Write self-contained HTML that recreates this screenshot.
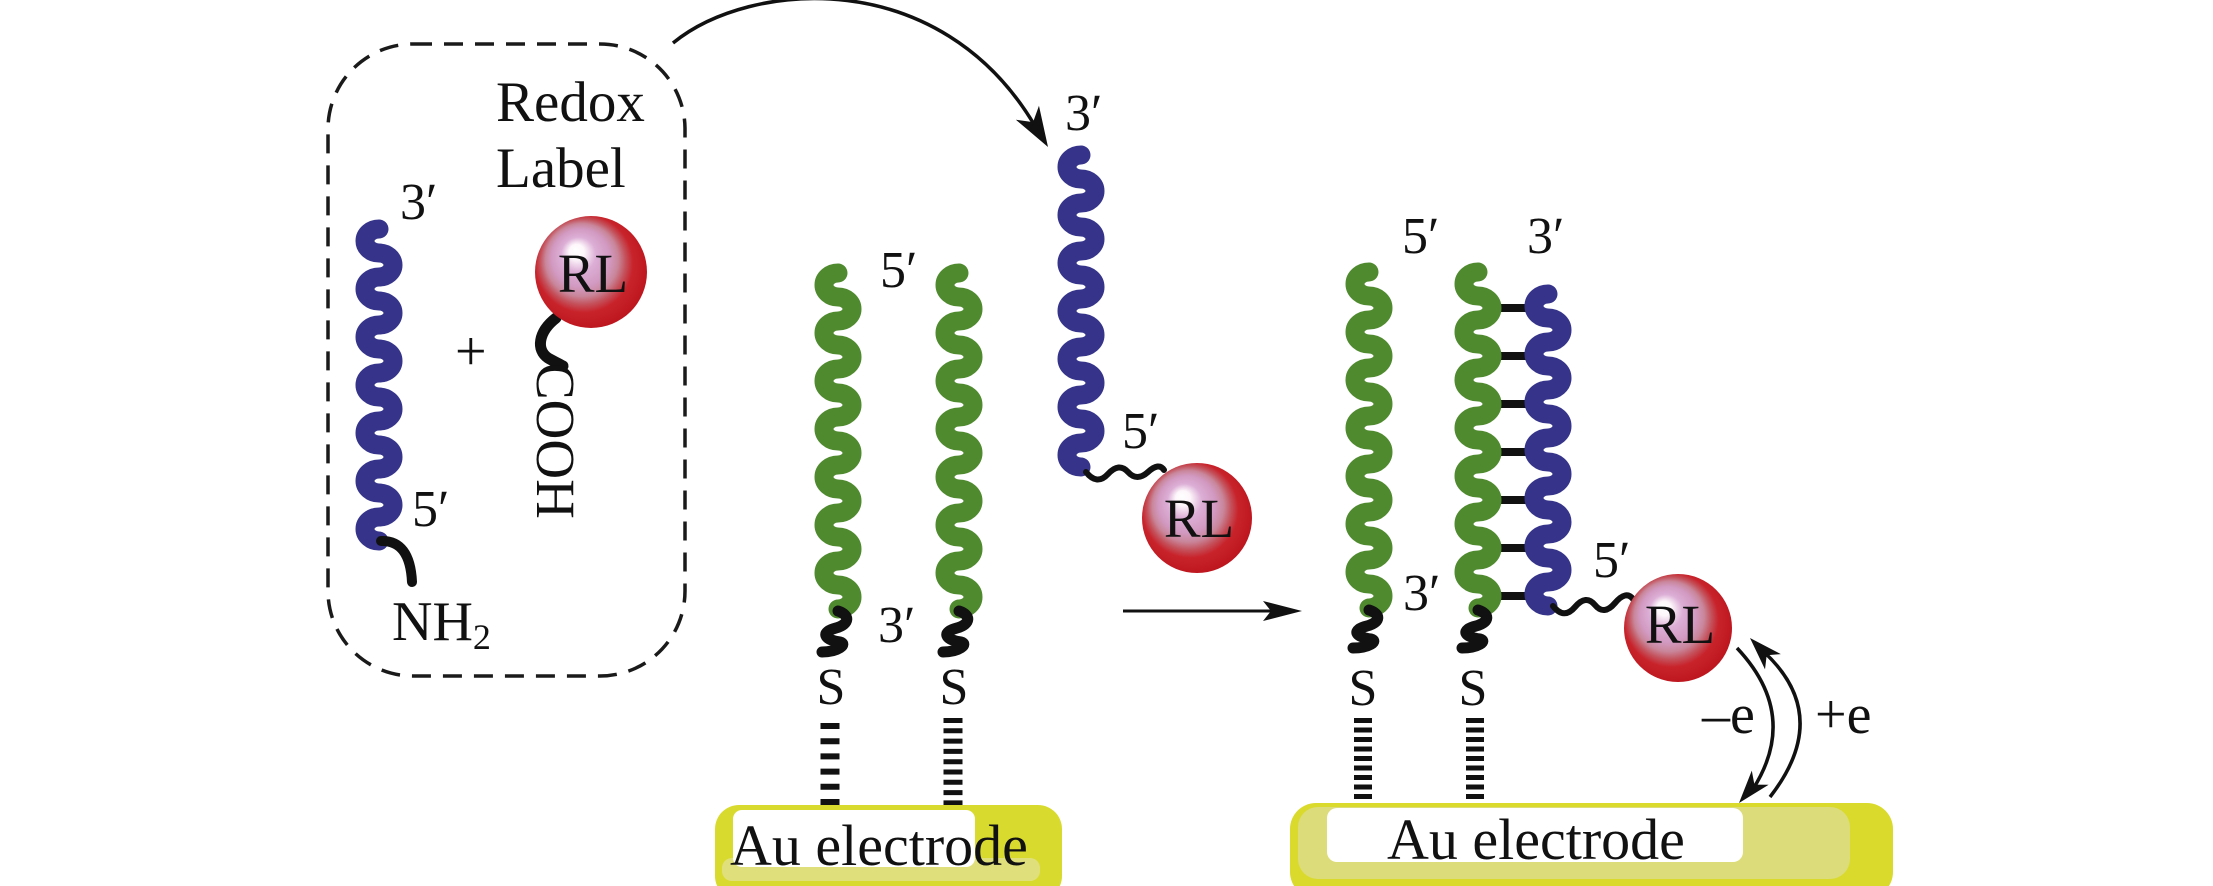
<!DOCTYPE html>
<html>
<head>
<meta charset="utf-8">
<style>
  html, body { margin: 0; padding: 0; background: #ffffff; }
  svg { display: block; }
  text { font-family: "Liberation Serif", "DejaVu Serif", serif; fill: #111; }
</style>
</head>
<body>
<svg width="2213" height="886" viewBox="0 0 2213 886" xmlns="http://www.w3.org/2000/svg">
  <defs>
    <radialGradient id="rl" cx="0.46" cy="0.46" r="0.56" fx="0.36" fy="0.3">
      <stop offset="0" stop-color="#ffffff"/>
      <stop offset="0.12" stop-color="#fdf6fa"/>
      <stop offset="0.28" stop-color="#dcaed6"/>
      <stop offset="0.46" stop-color="#d29ac2"/>
      <stop offset="0.58" stop-color="#c9869a"/>
      <stop offset="0.68" stop-color="#c4525c"/>
      <stop offset="0.78" stop-color="#c8232b"/>
      <stop offset="1" stop-color="#bd151d"/>
    </radialGradient>
  </defs>

  <!-- Dashed box -->
  <rect x="328" y="44" width="357" height="632" rx="85" ry="85" fill="none" stroke="#1a1a1a" stroke-width="3.5" stroke-dasharray="19 12"/>

  <!-- Redox Label -->
  <text x="496" y="121" font-size="57">Redox</text>
  <text x="496" y="187" font-size="57">Label</text>

  <!-- Left blue strand -->
  <path d="M379,229 a14,12 0 0 0 0,24 a14,12 0 0 1 0,24 a14,12 0 0 0 0,24 a14,12 0 0 1 0,24 a14,12 0 0 0 0,24 a14,12 0 0 1 0,24 a14,12 0 0 0 0,24 a14,12 0 0 1 0,24 a14,12 0 0 0 0,24 a14,12 0 0 1 0,24 a14,12 0 0 0 0,24 a14,12 0 0 1 0,24 a14,12 0 0 0 0,24" fill="none" stroke="#35348a" stroke-width="19" stroke-linecap="round"/>
  <!-- NH2 linker -->
  <path d="M381,541 Q410,540 412,582" fill="none" stroke="#111" stroke-width="10" stroke-linecap="round"/>
  <text x="400" y="219" font-size="52">3′</text>
  <text x="412" y="526" font-size="52">5′</text>
  <text x="392" y="640" font-size="56">NH<tspan font-size="36" dy="9">2</tspan></text>

  <!-- plus -->
  <text x="455" y="370" font-size="56">+</text>

  <!-- Left RL -->
  <path d="M556,318 C538,332 536,350 548,358 C553,361 558,363 563,366" fill="none" stroke="#111" stroke-width="11" stroke-linecap="round"/>
  <circle cx="591" cy="272" r="56" fill="url(#rl)"/>
  <text x="593" y="292" font-size="55" text-anchor="middle">RL</text>
  <text transform="translate(537,363) rotate(90)" font-size="55">COOH</text>

  <!-- Big curved arrow -->
  <path d="M673,43 C750,-20 940,-35 1035,126" fill="none" stroke="#111" stroke-width="3.5"/>
  <polygon points="0,0 -40,-13.5 -29,0 -40,13.5" fill="#111" transform="translate(1048,147) rotate(59)"/>

  <!-- Middle panel: green strands -->
  <path d="M838,273 a14,12 0 0 0 0,24 a14,12 0 0 1 0,24 a14,12 0 0 0 0,24 a14,12 0 0 1 0,24 a14,12 0 0 0 0,24 a14,12 0 0 1 0,24 a14,12 0 0 0 0,24 a14,12 0 0 1 0,24 a14,12 0 0 0 0,24 a14,12 0 0 1 0,24 a14,12 0 0 0 0,24 a14,12 0 0 1 0,24 a14,12 0 0 0 0,24 a14,12 0 0 1 0,24" fill="none" stroke="#4f8a2f" stroke-width="19" stroke-linecap="round"/>
  <path d="M959,273 a14,12 0 0 0 0,24 a14,12 0 0 1 0,24 a14,12 0 0 0 0,24 a14,12 0 0 1 0,24 a14,12 0 0 0 0,24 a14,12 0 0 1 0,24 a14,12 0 0 0 0,24 a14,12 0 0 1 0,24 a14,12 0 0 0 0,24 a14,12 0 0 1 0,24 a14,12 0 0 0 0,24 a14,12 0 0 1 0,24 a14,12 0 0 0 0,24 a14,12 0 0 1 0,24" fill="none" stroke="#4f8a2f" stroke-width="19" stroke-linecap="round"/>
  <!-- black linkers -->
  <path d="M838,611 C850,615 850,624 836,628 C820,632 824,640 840,642 C848,644 838,652 822,652" fill="none" stroke="#111" stroke-width="11" stroke-linecap="round"/>
  <path d="M959,611 C971,615 971,624 957,628 C941,632 945,640 961,642 C969,644 959,652 943,652" fill="none" stroke="#111" stroke-width="11" stroke-linecap="round"/>
  <text x="880" y="287" font-size="52">5′</text>
  <text x="878" y="642" font-size="52">3′</text>
  <text x="831" y="704" font-size="52" text-anchor="middle">S</text>
  <text x="954" y="704" font-size="52" text-anchor="middle">S</text>
  <line x1="830" y1="723" x2="830" y2="806" stroke="#111" stroke-width="19" stroke-dasharray="6 9.2"/>
  <line x1="953" y1="718" x2="953" y2="808" stroke="#111" stroke-width="19" stroke-dasharray="5 5.3"/>

  <!-- Middle electrode -->
  <rect x="715" y="805" width="347" height="95" rx="24" fill="#d8da2e"/>
  <rect x="722" y="858" width="318" height="23" rx="10" fill="#dfe07c"/>
  <rect x="733" y="810" width="242" height="57" rx="9" fill="#ffffff"/>
  <text x="730" y="865" font-size="58">Au electrode</text>

  <!-- Middle blue strand with RL -->
  <path d="M1081,155 a14,12 0 0 0 0,24 a14,12 0 0 1 0,24 a14,12 0 0 0 0,24 a14,12 0 0 1 0,24 a14,12 0 0 0 0,24 a14,12 0 0 1 0,24 a14,12 0 0 0 0,24 a14,12 0 0 1 0,24 a14,12 0 0 0 0,24 a14,12 0 0 1 0,24 a14,12 0 0 0 0,24 a14,12 0 0 1 0,24 a14,12 0 0 0 0,24" fill="none" stroke="#35348a" stroke-width="19" stroke-linecap="round"/>
  <path d="M1086,472 Q1097,486 1108,474 T1128,472 T1148,472 T1164,470" fill="none" stroke="#111" stroke-width="6" stroke-linecap="round"/>
  <text x="1065" y="130" font-size="52">3′</text>
  <text x="1122" y="448" font-size="52">5′</text>
  <circle cx="1197" cy="518" r="55" fill="url(#rl)"/>
  <text x="1199" y="537" font-size="55" text-anchor="middle">RL</text>

  <!-- Middle horizontal arrow -->
  <line x1="1123" y1="611" x2="1272" y2="611" stroke="#111" stroke-width="3"/>
  <polygon points="1302,611 1263,601 1271,611 1263,621" fill="#111"/>

  <!-- Right panel rungs -->
  <g stroke="#111" stroke-width="8">
    <line x1="1488" y1="308" x2="1538" y2="308"/>
    <line x1="1488" y1="356" x2="1538" y2="356"/>
    <line x1="1488" y1="404" x2="1538" y2="404"/>
    <line x1="1488" y1="452" x2="1538" y2="452"/>
    <line x1="1488" y1="500" x2="1538" y2="500"/>
    <line x1="1488" y1="548" x2="1538" y2="548"/>
    <line x1="1488" y1="596" x2="1538" y2="596"/>
  </g>

  <!-- Right panel strands -->
  <path d="M1369,272 a14,12 0 0 0 0,24 a14,12 0 0 1 0,24 a14,12 0 0 0 0,24 a14,12 0 0 1 0,24 a14,12 0 0 0 0,24 a14,12 0 0 1 0,24 a14,12 0 0 0 0,24 a14,12 0 0 1 0,24 a14,12 0 0 0 0,24 a14,12 0 0 1 0,24 a14,12 0 0 0 0,24 a14,12 0 0 1 0,24 a14,12 0 0 0 0,24 a14,12 0 0 1 0,24" fill="none" stroke="#4f8a2f" stroke-width="19" stroke-linecap="round"/>
  <path d="M1478,272 a14,12 0 0 0 0,24 a14,12 0 0 1 0,24 a14,12 0 0 0 0,24 a14,12 0 0 1 0,24 a14,12 0 0 0 0,24 a14,12 0 0 1 0,24 a14,12 0 0 0 0,24 a14,12 0 0 1 0,24 a14,12 0 0 0 0,24 a14,12 0 0 1 0,24 a14,12 0 0 0 0,24 a14,12 0 0 1 0,24 a14,12 0 0 0 0,24 a14,12 0 0 1 0,24" fill="none" stroke="#4f8a2f" stroke-width="19" stroke-linecap="round"/>
  <path d="M1548,294 a14,12 0 0 0 0,24 a14,12 0 0 1 0,24 a14,12 0 0 0 0,24 a14,12 0 0 1 0,24 a14,12 0 0 0 0,24 a14,12 0 0 1 0,24 a14,12 0 0 0 0,24 a14,12 0 0 1 0,24 a14,12 0 0 0 0,24 a14,12 0 0 1 0,24 a14,12 0 0 0 0,24 a14,12 0 0 1 0,24 a14,12 0 0 0 0,24" fill="none" stroke="#35348a" stroke-width="19" stroke-linecap="round"/>

  <!-- Right panel linkers -->
  <path d="M1369,610 C1381,614 1381,622 1367,626 C1351,630 1355,637 1371,639 C1379,641 1369,648 1353,648" fill="none" stroke="#111" stroke-width="11" stroke-linecap="round"/>
  <path d="M1478,610 C1490,614 1490,622 1476,626 C1460,630 1464,637 1480,639 C1488,641 1478,648 1462,648" fill="none" stroke="#111" stroke-width="11" stroke-linecap="round"/>
  <path d="M1553,606 Q1564,620 1575,607 T1595,605 T1615,603 T1633,599" fill="none" stroke="#111" stroke-width="6" stroke-linecap="round"/>

  <text x="1402" y="253" font-size="52">5′</text>
  <text x="1527" y="253" font-size="52">3′</text>
  <text x="1403" y="610" font-size="52">3′</text>
  <text x="1593" y="577" font-size="52">5′</text>

  <circle cx="1678" cy="628" r="54" fill="url(#rl)"/>
  <text x="1680" y="643" font-size="55" text-anchor="middle">RL</text>

  <text x="1363" y="705" font-size="52" text-anchor="middle">S</text>
  <text x="1473" y="705" font-size="52" text-anchor="middle">S</text>
  <line x1="1363" y1="718" x2="1363" y2="804" stroke="#111" stroke-width="18" stroke-dasharray="5 4.5"/>
  <line x1="1475" y1="718" x2="1475" y2="804" stroke="#111" stroke-width="18" stroke-dasharray="5 4.5"/>

  <!-- Electron transfer arrows -->
  <path d="M1737,648 Q1800,715 1753,789" fill="none" stroke="#111" stroke-width="3.5"/>
  <polygon points="0,0 -33,-11 -24,0 -33,11" fill="#111" transform="translate(1739,803) rotate(130)"/>
  <path d="M1770,797 Q1833,716 1764,652" fill="none" stroke="#111" stroke-width="3.5"/>
  <polygon points="0,0 -33,-11 -24,0 -33,11" fill="#111" transform="translate(1750,638) rotate(-134)"/>
  <text x="1702" y="733" font-size="56">–e</text>
  <text x="1815" y="733" font-size="56">+e</text>

  <!-- Right electrode -->
  <rect x="1290" y="803" width="603" height="95" rx="26" fill="#d9da2c"/>
  <rect x="1298" y="807" width="552" height="72" rx="20" fill="#dcdc7a"/>
  <rect x="1327" y="808" width="416" height="54" rx="10" fill="#ffffff"/>
  <text x="1387" y="859" font-size="58">Au electrode</text>
</svg>
</body>
</html>
